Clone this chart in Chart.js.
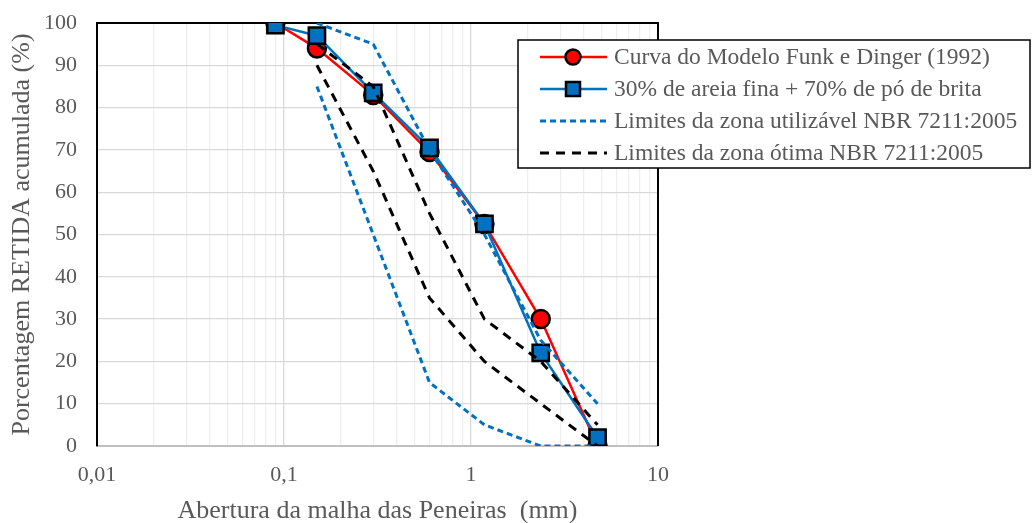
<!DOCTYPE html>
<html>
<head>
<meta charset="utf-8">
<script src="https://cdn.jsdelivr.net/npm/chart.js@4"></script>
<style>
  html, body { margin: 0; padding: 0; background: #fff; }
  #wrap { width: 1033px; height: 523px; }
</style>
</head>
<body>
<div id="wrap"><canvas id="curva"></canvas></div>
<script>
// sieve openings (mm) and accumulated retained (%)
const abertura = [0.09, 0.15, 0.3, 0.6, 1.18, 2.36, 4.75];
const funkDinger = [100, 94, 83, 69.5, 52.5, 30, 0];
const mistura = [99.5, 97, 83.5, 70.5, 52.5, 22, 2];

const peneirasNbr = [0.15, 0.3, 0.6, 1.18, 2.36, 4.75];
const utilizavelSup = [100, 95, 70, 50, 25, 10];
const utilizavelInf = [85, 50, 15, 5, 0, 0];
const otimaSup = [95, 85, 55, 30, 20, 5];
const otimaInf = [90, 65, 35, 20, 10, 0];

const xTicks = [0.01, 0.1, 1, 10];
const xTickLabels = ['0,01', '0,1', '1', '10'];

const serif = '"Liberation Serif", "Times New Roman", serif';
const grey = '#595959';

const pts = (xs, ys) => xs.map((x, i) => ({ x: x, y: ys[i] }));

// legend drawn inside the canvas, overlapping the plot like the original
const legendBox = {
    id: 'legendBox',
    afterDraw(chart) {
        const ctx = chart.ctx;
        const items = chart.data.datasets.filter(d => d.legend);
        const x0 = 518, y0 = 40, w = 512, h = 128;
        ctx.save();
        ctx.fillStyle = '#fff';
        ctx.fillRect(x0, y0, w, h);
        ctx.strokeStyle = '#000';
        ctx.lineWidth = 1.5;
        ctx.strokeRect(x0, y0, w, h);
        ctx.font = '23.5px ' + serif;
        ctx.textBaseline = 'middle';
        items.forEach((d, i) => {
            const y = y0 + 17 + i * 32;
            ctx.beginPath();
            ctx.setLineDash(d.borderDash || []);
            ctx.strokeStyle = d.borderColor;
            ctx.lineWidth = d.borderWidth;
            ctx.moveTo(540, y);
            ctx.lineTo(607, y);
            ctx.stroke();
            ctx.setLineDash([]);
            if (d.pointRadius > 0) {
                ctx.fillStyle = d.pointBackgroundColor;
                ctx.strokeStyle = '#000';
                ctx.lineWidth = 2.5;
                ctx.beginPath();
                if (d.pointStyle === 'rect') {
                    ctx.rect(566, y - 7, 14, 14);
                } else {
                    ctx.arc(573, y, 7.5, 0, Math.PI * 2);
                }
                ctx.fill();
                ctx.stroke();
            }
            ctx.fillStyle = grey;
            ctx.fillText(d.label, 614, y + 1);
        });
        ctx.restore();
    }
};

// black frame on left, top and right of the plot
const frame = {
    id: 'frame',
    beforeDatasetsDraw(chart) {
        const a = chart.chartArea;
        const ctx = chart.ctx;
        ctx.save();
        ctx.strokeStyle = '#000';
        ctx.lineWidth = 2;
        ctx.beginPath();
        ctx.moveTo(a.left, a.bottom);
        ctx.lineTo(a.left, a.top);
        ctx.lineTo(a.right, a.top);
        ctx.lineTo(a.right, a.bottom);
        ctx.stroke();
        ctx.restore();
    }
};

const ctx = document.getElementById('curva').getContext('2d');
new Chart(ctx, {
    type: 'line',
    data: {
        datasets: [
            {
                label: 'Curva do Modelo Funk e Dinger (1992)',
                legend: true,
                data: pts(abertura, funkDinger),
                borderColor: '#ff0000',
                borderWidth: 2.5,
                pointStyle: 'circle',
                pointRadius: 9,
                pointBackgroundColor: '#ff0000',
                pointBorderColor: '#000',
                pointBorderWidth: 2.5,
                order: 4
            },
            {
                label: '30% de areia fina + 70% de pó de brita',
                legend: true,
                data: pts(abertura, mistura),
                borderColor: '#0070c0',
                borderWidth: 2.5,
                pointStyle: 'rect',
                pointRadius: 11.5,
                pointBackgroundColor: '#0070c0',
                pointBorderColor: '#000',
                pointBorderWidth: 2.5,
                order: 3
            },
            {
                label: 'Limites da zona utilizável NBR 7211:2005',
                legend: true,
                data: pts(peneirasNbr, utilizavelSup),
                borderColor: '#0070c0',
                borderWidth: 3,
                borderDash: [6, 4],
                pointRadius: 0,
                order: 2
            },
            {
                label: 'utilizavel inferior',
                data: pts(peneirasNbr, utilizavelInf),
                borderColor: '#0070c0',
                borderWidth: 3,
                borderDash: [6, 4],
                pointRadius: 0,
                order: 2
            },
            {
                label: 'Limites da zona ótima NBR 7211:2005',
                legend: true,
                data: pts(peneirasNbr, otimaSup),
                borderColor: '#000',
                borderWidth: 3,
                borderDash: [9, 7],
                pointRadius: 0,
                order: 1
            },
            {
                label: 'otima inferior',
                data: pts(peneirasNbr, otimaInf),
                borderColor: '#000',
                borderWidth: 3,
                borderDash: [9, 7],
                pointRadius: 0,
                order: 1
            }
        ]
    },
    options: {
        responsive: true,
        maintainAspectRatio: false,
        animation: false,
        layout: { padding: { left: 0, right: 375, top: 23, bottom: 0 } },
        plugins: {
            legend: { display: false },
            tooltip: { enabled: false }
        },
        scales: {
            x: {
                type: 'logarithmic',
                min: 0.01,
                max: 10,
                afterFit: s => { s.height = 77; },
                afterBuildTicks: s => {
                    const t = [];
                    for (let e = -2; e <= 0; e++) {
                        for (let m = 1; m <= 9; m++) t.push({ value: +(m * Math.pow(10, e)).toPrecision(3) });
                    }
                    t.push({ value: 10 });
                    s.ticks = t;
                },
                ticks: {
                    autoSkip: false,
                    maxRotation: 0,
                    padding: 16,
                    color: grey,
                    font: { family: serif, size: 22 },
                    callback: v => {
                        const i = xTicks.findIndex(t => Math.abs(t - v) < 1e-9);
                        return i >= 0 ? xTickLabels[i] : '';
                    }
                },
                grid: {
                    drawTicks: false,
                    lineWidth: 1.3,
                    color: c => {
                        const v = c.tick ? c.tick.value : 0;
                        const major = xTicks.some(t => Math.abs(t - v) < 1e-9);
                        return major ? '#d9d9d9' : '#efefef';
                    }
                },
                border: { color: '#bfbfbf', width: 2 },
                title: {
                    display: true,
                    text: 'Abertura da malha das Peneiras  (mm)',
                    color: grey,
                    font: { family: serif, size: 26 },
                    padding: { top: 0, bottom: -4 }
                }
            },
            y: {
                min: 0,
                max: 100,
                afterFit: s => {
                    s.width = 97;
                    // tick padding would otherwise push the plot top down
                    s.paddingTop = 0;
                    s.paddingBottom = 0;
                },
                ticks: {
                    stepSize: 10,
                    padding: 20,
                    color: grey,
                    font: { family: serif, size: 22 }
                },
                grid: {
                    drawTicks: false,
                    lineWidth: 1.3,
                    color: '#d9d9d9'
                },
                border: { color: '#000', width: 2 },
                title: {
                    display: true,
                    text: 'Porcentagem RETIDA acumulada (%)',
                    color: grey,
                    font: { family: serif, size: 26 },
                    padding: { top: 7, bottom: 0 }
                }
            }
        }
    },
    plugins: [frame, legendBox]
});
</script>
</body>
</html>
